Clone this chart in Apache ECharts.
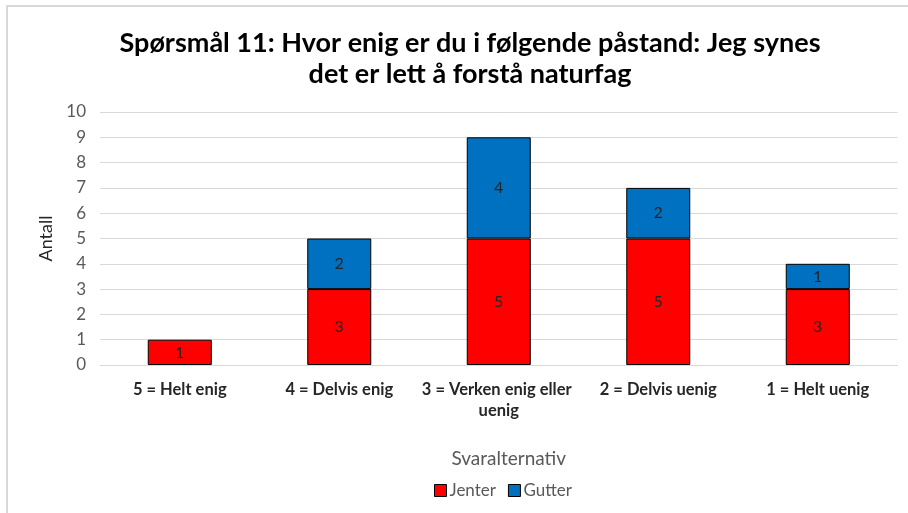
<!DOCTYPE html>
<html>
<head>
<meta charset="utf-8">
<script src="https://cdn.jsdelivr.net/npm/echarts@6/dist/echarts.min.js"></script>
<style>
  html, body { margin: 0; padding: 0; background: #fff; }
  #chart { width: 908px; height: 513px; }
</style>
</head>
<body>
<div id="chart"></div>
<script>
var categories = ['5 = Helt enig', '4 = Delvis enig', '3 = Verken enig eller uenig', '2 = Delvis uenig', '1 = Helt uenig'];
var jenter = [1, 3, 5, 5, 3];
var gutter = [null, 2, 4, 2, 1];
var yTicks = [0, 10, 1];

var font = 'Lato';
var chart = echarts.init(document.getElementById('chart'));

var option = {
    backgroundColor: '#fff',
    animation: false,
    title: {
        text: 'Spørsmål 11: Hvor enig er du i følgende påstand: Jeg synes\ndet er lett å forstå naturfag',
        left: 465,
        textAlign: 'center',
        top: 23,
        textStyle: { fontFamily: font, fontSize: 27, fontWeight: 'bold', color: '#000', lineHeight: 31 }
    },
    graphic: [{
        type: 'rect',
        shape: { x: 7, y: 6, width: 1000, height: 600 },
        style: { fill: 'none', stroke: '#d9d9d9', lineWidth: 2 },
        silent: true
    }],
    legend: {
        bottom: 9,
        left: 429,
        itemWidth: 12,
        itemHeight: 12,
        itemGap: 12,
        icon: 'rect',
        textStyle: { fontFamily: font, fontSize: 17, color: '#595959', padding: [0, 0, 0, -2] },
        data: [
            { name: 'Jenter', itemStyle: { borderColor: '#000', borderWidth: 1 } },
            { name: 'Gutter', itemStyle: { borderColor: '#000', borderWidth: 1 } }
        ]
    },
    grid: { left: 100, right: 8, top: 112, bottom: 148 },
    xAxis: {
        type: 'category',
        data: categories,
        name: 'Svaralternativ',
        nameLocation: 'middle',
        nameGap: 84,
        nameTextStyle: { fontFamily: font, fontSize: 19, color: '#595959', padding: [0, 0, 0, 20] },
        axisLine: { lineStyle: { color: '#d9d9d9' } },
        axisTick: { show: false },
        axisLabel: {
            interval: 0,
            fontFamily: font,
            fontSize: 16.5,
            fontWeight: 'bold',
            color: '#262626',
            width: 175,
            overflow: 'break',
            lineHeight: 21,
            margin: 14
        }
    },
    yAxis: {
        type: 'value',
        min: yTicks[0],
        max: yTicks[1],
        interval: yTicks[2],
        name: 'Antall',
        nameLocation: 'middle',
        nameGap: 44,
        nameTextStyle: { fontFamily: font, fontSize: 18, color: '#262626' },
        axisLine: { show: false },
        axisTick: { show: false },
        axisLabel: { fontFamily: font, fontSize: 17, color: '#595959', margin: 14 },
        splitLine: { lineStyle: { color: '#d9d9d9' } }
    },
    series: [{
        name: 'Jenter',
        type: 'bar',
        stack: 'a',
        barWidth: 64,
        data: jenter,
        itemStyle: { color: '#ff0000', borderColor: '#000', borderWidth: 1 },
        label: { show: true, position: 'inside', fontFamily: font, fontSize: 16, color: '#262626' }
    }, {
        name: 'Gutter',
        type: 'bar',
        stack: 'a',
        barWidth: 64,
        data: gutter,
        itemStyle: { color: '#0070c0', borderColor: '#000', borderWidth: 1 },
        label: { show: true, position: 'inside', fontFamily: font, fontSize: 16, color: '#262626' }
    }]
};

chart.setOption(option);
</script>
</body>
</html>
